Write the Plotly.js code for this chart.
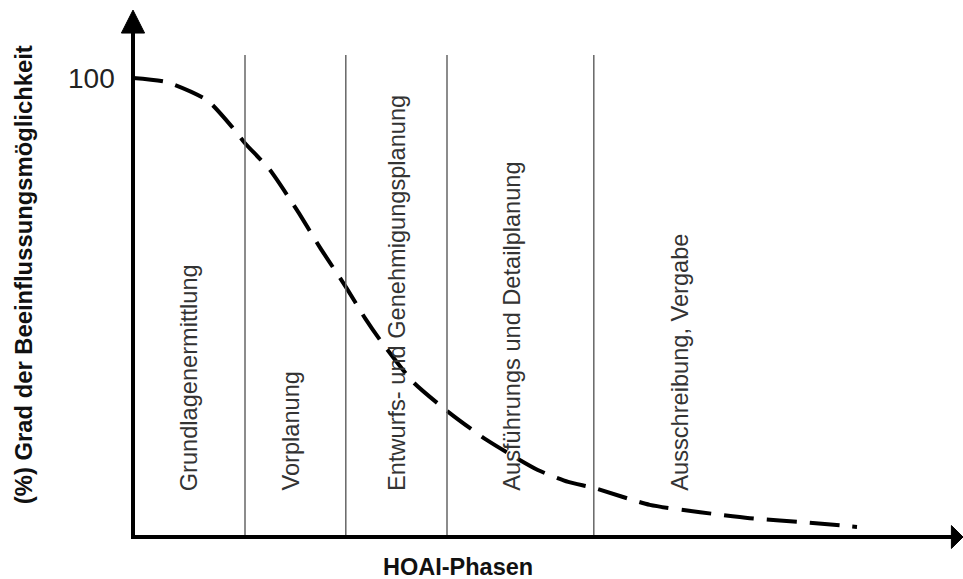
<!DOCTYPE html>
<html>
<head>
<meta charset="utf-8">
<script src="https://cdn.plot.ly/plotly-3.0.1.min.js"></script>
<style>html,body{margin:0;padding:0;background:#fff;}#chart{width:963px;height:579px;}</style>
</head>
<body>
<div id="chart"></div>
<script>
// Curve: influence degree (%) over progress through HOAI phases
const curveX = [0, 4.25, 9.25, 12.5, 14, 17.1, 20.5, 23.4, 26.6, 29, 30.9, 35, 39.6, 44.25, 50.6, 54.4, 57.6, 64.6, 70.9, 77.1, 84.6, 90.5];
const curveY = [100, 99.1, 95.2, 89.1, 85.8, 80.0, 71.2, 63.0, 54.5, 47.7, 42.9, 33.8, 27.0, 21.1, 14.6, 12.0, 10.7, 7.0, 5.4, 4.1, 3.1, 2.2];

// Phase boundaries (x) and labels
const phaseBounds = [14, 26.6, 39.25, 57.6];
const phaseLabels = ["Grundlagenermittlung", "Vorplanung", "Entwurfs- und Genehmigungsplanung", "Ausführungs und Detailplanung", "Ausschreibung, Vergabe"];
const phaseLabelX = [7.1, 19.75, 33, 47.4, 68.4];
const yTickVals = [100];
const yTickText = ["100"];
const xTitle = "HOAI-Phasen";
const yTitle = "(%) Grad der Beeinflussungsmöglichkeit";

const X0 = -16.625, X1 = 103.75, Y0 = -9.15, Y1 = 117.0;
const FONT = "Liberation Sans, Arial, sans-serif";

const shapes = [];
// vertical phase lines
phaseBounds.forEach(b => shapes.push({type:'line', xref:'x', yref:'y', x0:b, x1:b, y0:0, y1:105, line:{color:'#666', width:1.5}}));
// axes
shapes.push({type:'line', xref:'x', yref:'y', x0:0, x1:0, y0:-0.4, y1:110, line:{color:'#000', width:4}});
shapes.push({type:'line', xref:'x', yref:'y', x0:-0.25, x1:102.5, y0:0, y1:0, line:{color:'#000', width:4}});
// arrow heads
shapes.push({type:'path', xref:'x', yref:'y', path:'M 0 114.8 L -1.45 109.8 L 1.45 109.8 Z', fillcolor:'#000', line:{color:'#000', width:1}});
shapes.push({type:'path', xref:'x', yref:'y', path:'M 103.75 0 L 102.3 2.5 L 102.3 -2.5 Z', fillcolor:'#000', line:{color:'#000', width:1}});

const annotations = [];
phaseLabels.forEach((t, i) => annotations.push({
  x: phaseLabelX[i], y: 9.6, xref:'x', yref:'y', text: t, showarrow:false,
  textangle:-90, xanchor:'center', yanchor:'bottom',
  font:{family:FONT, size:23.6, color:'#333'}
}));
yTickVals.forEach((v, i) => annotations.push({
  x: -2.0, y: v, xref:'x', yref:'y', text: yTickText[i], showarrow:false,
  xanchor:'right', yanchor:'middle', font:{family:FONT, size:28, color:'#222'}
}));
annotations.push({x:40.6, y:-6.5, xref:'x', yref:'y', text:'<b>'+xTitle+'</b>', showarrow:false,
  xanchor:'center', yanchor:'middle', font:{family:FONT, size:23.5, color:'#111'}});
annotations.push({x:-13.6, y:57.1, xref:'x', yref:'y', text:'<b>'+yTitle+'</b>', showarrow:false,
  textangle:-90, xanchor:'center', yanchor:'middle', font:{family:FONT, size:23.8, color:'#111'}});

const trace = {
  x: curveX, y: curveY, type:'scatter', mode:'lines',
  line:{color:'#000', width:4, dash:'30px,13px', shape:'spline', smoothing:0.6},
  hoverinfo:'skip', showlegend:false
};

const layout = {
  width:963, height:579,
  margin:{l:0, r:0, t:0, b:0},
  paper_bgcolor:'#fff', plot_bgcolor:'#fff',
  xaxis:{range:[X0, X1], visible:false, fixedrange:true},
  yaxis:{range:[Y0, Y1], visible:false, fixedrange:true},
  shapes: shapes, annotations: annotations, showlegend:false
};

Plotly.newPlot('chart', [trace], layout, {staticPlot:true, displayModeBar:false});
</script>
</body>
</html>
